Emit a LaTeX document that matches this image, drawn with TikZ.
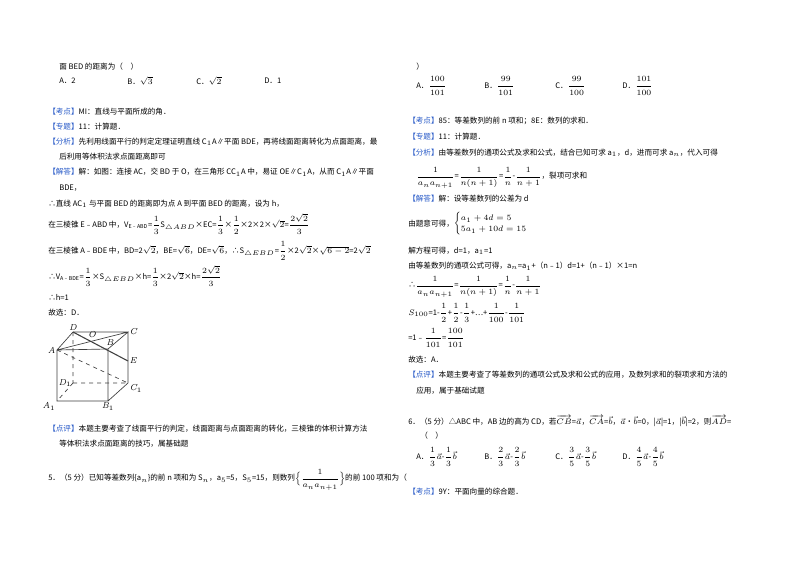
\documentclass[tikz,border=0pt]{standalone}
\usepackage{fontspec}
\usepackage{amsmath}
\newfontfamily\cjk{Noto Sans CJK SC}
\definecolor{tagblue}{RGB}{40,90,200}
\newcommand{\tg}[1]{{\color{tagblue}【#1】}}
\newcommand{\fr}[2]{\dfrac{#1}{#2}}
\begin{document}
\begin{tikzpicture}[x=0.75pt,y=-0.75pt,
  t/.style={anchor=west,inner sep=0pt,font=\cjk\fontsize{5.7}{7}\selectfont},
  lab/.style={font=\itshape\fontsize{6.5}{8}\selectfont,inner sep=1pt},
  edge/.style={line width=0.5pt,draw=black!75},
  hid/.style={edge,dashed}]
\useasboundingbox[fill=white] (0,0) rectangle (800,565);
% left column
\node[t] (l1) at (59,67) {面 BED 的距离为（\quad ）};
\node[t] (l2a) at (59,81) {A．2};
\node[t] (l2b) at (127,81) {B．$\sqrt3$};
\node[t] (l2c) at (196,81) {C．$\sqrt2$};
\node[t] (l2d) at (264,81) {D．1};
\node[t] (l3) at (48,112) {\tg{考点}MI：直线与平面所成的角．};
\node[t] (l4) at (48,127) {\tg{专题}11：计算题．};
\node[t] (l5) at (48,142) {\tg{分析}先利用线面平行的判定定理证明直线 C$_1$A∥平面 BDE，再将线面距离转化为点面距离，最};
\node[t] (l6) at (59,157) {后利用等体积法求点面距离即可};
\node[t] (l7) at (48,172) {\tg{解答}解：如图：连接 AC，交 BD 于 O，在三角形 CC$_1$A 中，易证 OE∥C$_1$A，从而 C$_1$A∥平面};
\node[t] (l8) at (59,188) {BDE，};
\node[t] (l9) at (48,204) {∴直线 AC$_1$ 与平面 BED 的距离即为点 A 到平面 BED 的距离，设为 h，};
\node[t] (l10) at (48,224) {在三棱锥 E﹣ABD 中，V$_{\text{E﹣ABD}}$=$\fr13$S$_{\triangle ABD}$×EC=$\fr13$×$\fr12$×2×2×$\sqrt2$=$\fr{2\sqrt2}{3}$};
\node[t] (l11) at (48,251) {在三棱锥 A﹣BDE 中，BD=2$\sqrt2$，BE=$\sqrt6$，DE=$\sqrt6$，∴S$_{\triangle EBD}$=$\fr12$×2$\sqrt2$×$\sqrt{6-2}$=2$\sqrt2$};
\node[t] (l12) at (48,276) {∴V$_{\text{A﹣BDE}}$=$\fr13$×S$_{\triangle EBD}$×h=$\fr13$×2$\sqrt2$×h=$\fr{2\sqrt2}{3}$};
\node[t] (l13) at (48,297) {∴h=1};
\node[t] (l14) at (48,313) {故选：D．};
% cube
\coordinate (D) at (73,332); \coordinate (C) at (128,332);
\coordinate (A) at (57,350); \coordinate (B) at (108,349);
\coordinate (D1) at (73,383); \coordinate (C1) at (128,383);
\coordinate (A1) at (57,401); \coordinate (B1) at (108,401);
\coordinate (E) at (128,361);
\draw[edge] (A)--(D)--(C)--(B)--(A)--(A1)--(B1)--(B) (B1)--(C1)--(C) (A)--(C);
\draw[edge,line width=0.8pt] (D)--(E);
\draw[hid] (D)--(D1) (D1)--(C1) (D1)--(A1) (A)--(C1);
\node[lab,anchor=south] (nD) at (D) {D};
\node[lab,anchor=west] (nC) at (C) {C};
\node[lab,anchor=east] (nA) at (A) {A};
\node[lab,anchor=south] (nB) at (110,347) {B};
\node[lab,anchor=south] (nO) at (92,339) {O};
\node[lab,anchor=west] (nE) at (E) {E};
\node[lab,anchor=east] (nD1) at (D1) {D$_1$};
\node[lab,anchor=north west] (nC1) at (C1) {C$_1$};
\node[lab,anchor=north east] (nA1) at (A1) {A$_1$};
\node[lab,anchor=north] (nB1) at (B1) {B$_1$};
\node[t] (l15) at (48,429) {\tg{点评}本题主要考查了线面平行的判定，线面距离与点面距离的转化，三棱锥的体积计算方法};
\node[t] (l16) at (59,444) {等体积法求点面距离的技巧，属基础题};
\node[t] (l17) at (48,480) {5．（5 分）已知等差数列\{a$_n$\}的前 n 项和为 S$_n$，a$_5$=5，S$_5$=15，则数列$\Bigl\{\fr{1}{a_na_{n+1}}\Bigr\}$的前 100 项和为（};
% right column
\node[t] (r1) at (416,67) {）};
\node[t] (r2a) at (416,86) {A．$\fr{100}{101}$};
\node[t] (r2b) at (484,86) {B．$\fr{99}{101}$};
\node[t] (r2c) at (555,86) {C．$\fr{99}{100}$};
\node[t] (r2d) at (622,86) {D．$\fr{101}{100}$};
\node[t] (r3) at (408,121) {\tg{考点}85：等差数列的前 n 项和；8E：数列的求和．};
\node[t] (r4) at (408,137) {\tg{专题}11：计算题．};
\node[t] (r5) at (408,153) {\tg{分析}由等差数列的通项公式及求和公式，结合已知可求 a$_1$，d，进而可求 a$_n$，代入可得};
\node[t] (r6) at (416,178) {$\fr{1}{a_na_{n+1}}$=$\fr{1}{n(n+1)}$=$\fr1n$-$\fr{1}{n+1}$，裂项可求和};
\node[t] (r7) at (408,199) {\tg{解答}解：设等差数列的公差为 d};
\node[t] (r8) at (408,224) {由题意可得，$\begin{cases}a_1+4d=5\\5a_1+10d=15\end{cases}$};
\node[t] (r9) at (408,251) {解方程可得，d=1，a$_1$=1};
\node[t] (r10) at (408,266) {由等差数列的通项公式可得，a$_n$=a$_1$+（n﹣1）d=1+（n﹣1）×1=n};
\node[t] (r11) at (408,287) {∴$\fr{1}{a_na_{n+1}}$=$\fr{1}{n(n+1)}$=$\fr1n$-$\fr{1}{n+1}$};
\node[t] (r12) at (408,313) {$S_{100}$=1-$\fr12$+$\fr12$-$\fr13$+…+$\fr1{100}$-$\fr1{101}$};
\node[t] (r13) at (408,338) {=1﹣$\fr1{101}$=$\fr{100}{101}$};
\node[t] (r14) at (408,360) {故选：A．};
\node[t] (r15) at (408,375) {\tg{点评}本题主要考查了等差数列的通项公式及求和公式的应用，及数列求和的裂项求和方法的};
\node[t] (r16) at (416,391) {应用，属于基础试题};
\node[t] (r17) at (408,421) {6．（5 分）△ABC 中，AB 边的高为 CD，若$\overrightarrow{CB}$=$\vec a$，$\overrightarrow{CA}$=$\vec b$，$\vec a$•$\vec b$=0，|$\vec a$|=1，|$\vec b$|=2，则$\overrightarrow{AD}$=};
\node[t] (r18) at (420,436) {（\quad ）};
\node[t] (r19a) at (416,457) {A．$\fr13\vec a$-$\fr13\vec b$};
\node[t] (r19b) at (484,457) {B．$\fr23\vec a$-$\fr23\vec b$};
\node[t] (r19c) at (555,457) {C．$\fr35\vec a$-$\fr35\vec b$};
\node[t] (r19d) at (622,457) {D．$\fr45\vec a$-$\fr45\vec b$};
\node[t] (r20) at (408,492) {\tg{考点}9Y：平面向量的综合题．};
\end{tikzpicture}
\end{document}
